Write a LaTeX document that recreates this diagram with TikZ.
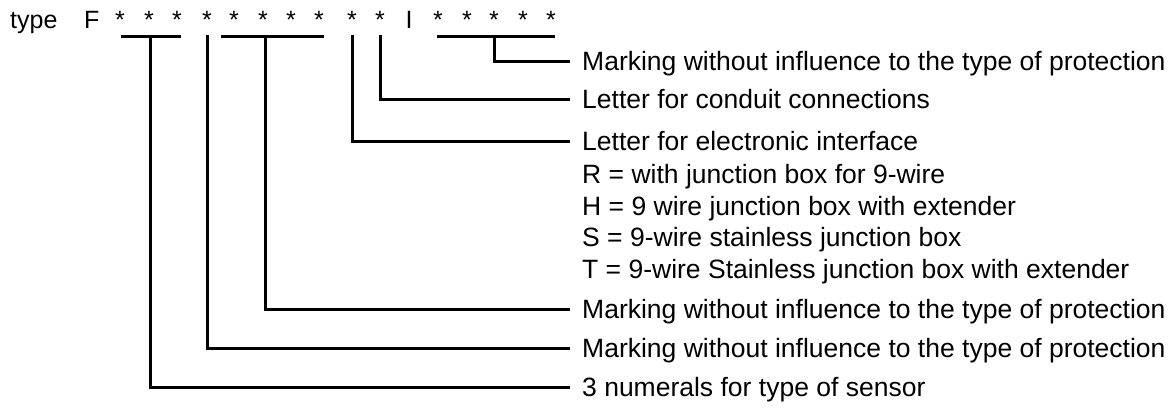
\documentclass[tikz,border=0pt]{standalone}
\usepackage{fontspec}
\setmainfont{Liberation Sans}
\begin{document}
\begin{tikzpicture}[x=1pt,y=-1pt,
  code/.style={font=\fontsize{25}{30}\selectfont, inner sep=0pt, anchor=base},
  desc/.style={font=\fontsize{26.5}{31}\selectfont, anchor=west, text height=19pt, text depth=0pt, inner xsep=14pt, inner ysep=0pt},
  plain/.style={font=\fontsize{26.5}{31}\selectfont, anchor=base west, inner sep=0pt},
  wire/.style={line width=3pt, line cap=rect, line join=miter}]
\useasboundingbox (0,0) rectangle (1175,408);
% top code row
\node[code, anchor=base west] (type) at (10,28) {type};
\node[code, anchor=base west] (F) at (84,28) {F};
\foreach \n/\x in {1/120,2/149,3/177,4/207,5/234,6/263,7/291,8/319,9/352,10/380,11/438,12/467,13/494,14/523,15/551}
  \node[code] (s\n) at (\x,28) {*};
\node[code] (I) at (409,28) {I};
% descriptions
\node[desc] (d1) at (568,61) {Marking without influence to the type of protection};
\node[desc] (d2) at (568,99) {Letter for conduit connections};
\node[desc] (d3) at (568,141) {Letter for electronic interface};
\node[plain] (r1) at (582,183.5) {R = with junction box for 9-wire};
\node[plain] (r2) at (582,215) {H = 9 wire junction box with extender};
\node[plain] (r3) at (582,246) {S = 9-wire stainless junction box};
\node[plain] (r4) at (582,278.5) {T = 9-wire Stainless junction box with extender};
\node[desc] (d4) at (568,309) {Marking without influence to the type of protection};
\node[desc] (d5) at (568,348) {Marking without influence to the type of protection};
\node[desc] (d6) at (568,387) {3 numerals for type of sensor};
% bars under groups of stars
\coordinate (b1a) at (122,36); \coordinate (b1b) at (179,36);
\coordinate (b2a) at (222,36); \coordinate (b2b) at (322,36);
\coordinate (b3a) at (438,36); \coordinate (b3b) at (553,36);
\draw[wire] (b1a) -- (b1b);
\draw[wire] (b2a) -- (b2b);
\draw[wire] (b3a) -- (b3b);
% leaders
\draw[wire] (b3a -| s13) |- (d1.west);
\draw[wire] (b1a -| s10) |- (d2.west);
\draw[wire] (b1a -| s9) |- (d3.west);
\draw[wire] (b2a -| 265,0) |- (d4.west);
\draw[wire] (b1a -| s4) |- (d5.west);
\draw[wire] (b1a -| 150,0) |- (d6.west);
\end{tikzpicture}
\end{document}
